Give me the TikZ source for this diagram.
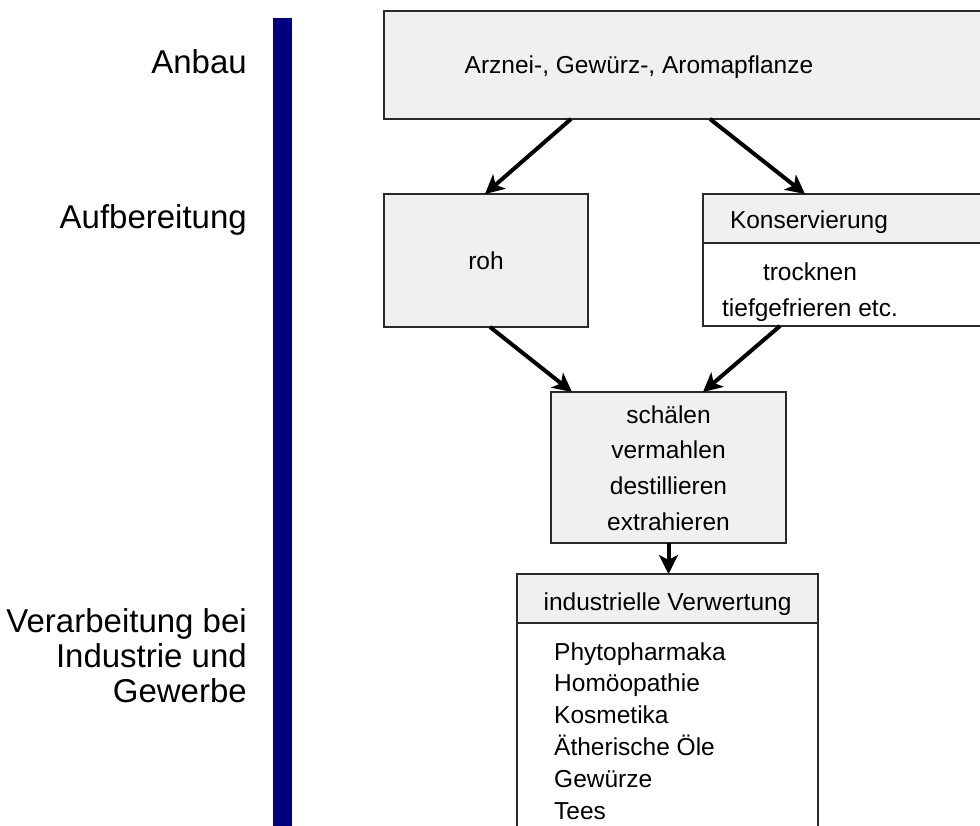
\documentclass[tikz,border=0pt]{standalone}
\usepackage{fontspec}
\setmainfont{Liberation Sans}
\usetikzlibrary{arrows.meta}

\definecolor{boxgray}{HTML}{F0F0F0}
\definecolor{framegray}{HTML}{2A2A2A}
\definecolor{barblue}{HTML}{000080}

\tikzset{
  panel/.style={draw=framegray, line width=1.2pt, fill=boxgray, inner sep=0pt, outer sep=0pt, anchor=north west},
  whitepanel/.style={panel, fill=white},
  flow/.style={line width=4pt, -{Stealth[length=19pt,width=19pt,inset=5pt]}},
  boxtext/.style={inner sep=0pt, font=\fontsize{24.5}{35.7}\selectfont},
  listtext/.style={inner sep=0pt, font=\fontsize{24.5}{31.8}\selectfont, align=left, anchor=north west},
  stagetext/.style={inner sep=0pt, font=\fontsize{33}{35}\selectfont, align=right},
}

\begin{document}
\begin{tikzpicture}[x=1pt, y=-1pt]
  \useasboundingbox (0,0) rectangle (980,826);
  \clip (0,0) rectangle (980,826);

  % stage bar and stage labels
  \fill[barblue] (273,18) rectangle (292,830);
  \node[stagetext, anchor=base east] (anbau) at (247,74) {Anbau};
  \node[stagetext, anchor=base east] (aufb) at (247,229) {Aufbereitung};
  \node[stagetext, anchor=north east] (verarb) at (247,607.5)
    {\strut Verarbeitung bei\\Industrie und\\Gewerbe};

  % plant box
  \node[panel, minimum width=640pt, minimum height=108pt] (plant) at (384,11) {};
  \node[boxtext, anchor=base] (planttxt) at (639,74) {Arznei-, Gewürz-, Aromapflanze};

  % raw branch
  \node[panel, minimum width=204pt, minimum height=133pt] (raw) at (384,194) {};
  \node[boxtext, anchor=base] (rawtxt) at (486,270) {roh};

  % preservation branch
  \node[panel, minimum width=320pt, minimum height=49pt] (conshead) at (703,194) {};
  \node[whitepanel, minimum width=320pt, minimum height=83pt] (consbody) at (703,243) {};
  \node[boxtext, anchor=base] (conshtxt) at (809,229) {Konservierung};
  \node[boxtext, anchor=north, align=center] (consbtxt) at (810,255.5)
    {\strut trocknen\\tiefgefrieren etc.};

  % processing steps
  \node[panel, minimum width=235pt, minimum height=151pt] (proc) at (551,392) {};
  \node[boxtext, anchor=north, align=center] (proctxt) at (668.5,398)
    {\strut schälen\\vermahlen\\destillieren\\extrahieren};

  % industrial use
  \node[panel, minimum width=301pt, minimum height=49pt] (indhead) at (517,574) {};
  \node[whitepanel, minimum width=301pt, minimum height=230pt] (indbody) at (517,623) {};
  \node[boxtext, anchor=base] (indhtxt) at (667.5,610) {industrielle Verwertung};
  \node[listtext] (indlist) at (554,637.7)
    {\strut Phytopharmaka\\Homöopathie\\Kosmetika\\Ätherische Öle\\Gewürze\\Tees};

  % connectors
  \draw[flow] ([xshift=187pt]plant.south west) -- ([xshift=101pt]raw.north west);
  \draw[flow] ([xshift=326pt]plant.south west) -- ([xshift=102pt]conshead.north west);
  \draw[flow] ([xshift=106pt]raw.south west) -- ([xshift=21pt]proc.north west);
  \draw[flow] ([xshift=77pt]consbody.south west) -- ([xshift=152pt]proc.north west);
  \draw[flow] (proc.south) -- (proc.south |- indhead.north);
\end{tikzpicture}
\end{document}
